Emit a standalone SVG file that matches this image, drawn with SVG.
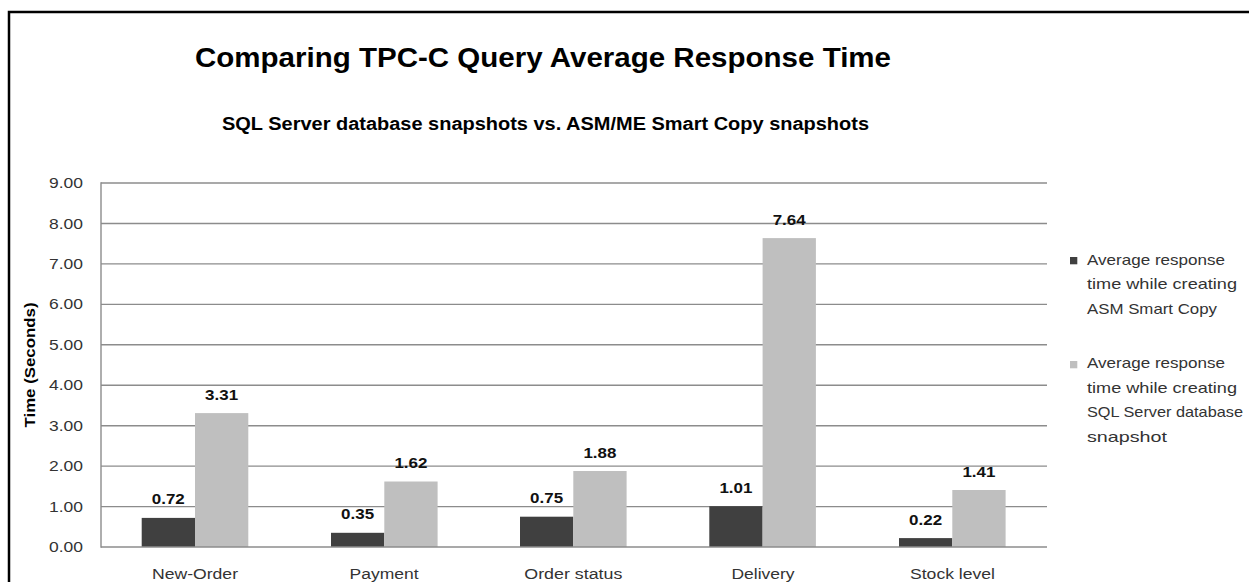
<svg xmlns="http://www.w3.org/2000/svg" width="1249" height="582" viewBox="0 0 1249 582">
<style>
text{font-family:"Liberation Sans",Arial,sans-serif}
.title{font-size:27px;font-weight:bold;fill:#000}
.sub{font-size:18px;font-weight:bold;fill:#000}
.ytick{font-size:15px;fill:#333;text-anchor:end}
.cat{font-size:15.5px;fill:#333;text-anchor:middle}
.val{font-size:15.5px;font-weight:bold;fill:#111;text-anchor:middle}
.leg{font-size:15px;fill:#333}
.ytitle{font-size:15px;font-weight:bold;fill:#000;text-anchor:middle}
.grid{stroke:#8c8c8c;stroke-width:1.4;fill:none}
.dark{fill:#404040}
.light{fill:#bfbfbf}
</style>
<rect x="0" y="0" width="1249" height="582" fill="#fff"/>
<rect x="9" y="12" width="1260" height="600" fill="none" stroke="#000" stroke-width="2.5"/>
<g id="titles">
<text class="title" x="195" y="67" textLength="696" lengthAdjust="spacingAndGlyphs">Comparing TPC-C Query Average Response Time</text>
<text class="sub" x="222" y="130" textLength="647" lengthAdjust="spacingAndGlyphs">SQL Server database snapshots vs. ASM/ME Smart Copy snapshots</text>
</g>
<g id="gridlines">
<line class="grid" x1="101" y1="183" x2="1047" y2="183"/>
<line class="grid" x1="101" y1="223.5" x2="1047" y2="223.5"/>
<line class="grid" x1="101" y1="263.9" x2="1047" y2="263.9"/>
<line class="grid" x1="101" y1="304.4" x2="1047" y2="304.4"/>
<line class="grid" x1="101" y1="344.8" x2="1047" y2="344.8"/>
<line class="grid" x1="101" y1="385.2" x2="1047" y2="385.2"/>
<line class="grid" x1="101" y1="425.7" x2="1047" y2="425.7"/>
<line class="grid" x1="101" y1="466.1" x2="1047" y2="466.1"/>
<line class="grid" x1="101" y1="506.6" x2="1047" y2="506.6"/>
</g>
<g id="yaxis">
<text class="ytick" x="83" y="188" textLength="34" lengthAdjust="spacingAndGlyphs">9.00</text>
<text class="ytick" x="83" y="228.5" textLength="34" lengthAdjust="spacingAndGlyphs">8.00</text>
<text class="ytick" x="83" y="268.9" textLength="34" lengthAdjust="spacingAndGlyphs">7.00</text>
<text class="ytick" x="83" y="309.4" textLength="34" lengthAdjust="spacingAndGlyphs">6.00</text>
<text class="ytick" x="83" y="349.8" textLength="34" lengthAdjust="spacingAndGlyphs">5.00</text>
<text class="ytick" x="83" y="390.2" textLength="34" lengthAdjust="spacingAndGlyphs">4.00</text>
<text class="ytick" x="83" y="430.7" textLength="34" lengthAdjust="spacingAndGlyphs">3.00</text>
<text class="ytick" x="83" y="471.1" textLength="34" lengthAdjust="spacingAndGlyphs">2.00</text>
<text class="ytick" x="83" y="511.6" textLength="34" lengthAdjust="spacingAndGlyphs">1.00</text>
<text class="ytick" x="83" y="552" textLength="34" lengthAdjust="spacingAndGlyphs">0.00</text>
<text class="ytitle" transform="translate(35,365) rotate(-90)" textLength="125" lengthAdjust="spacingAndGlyphs">Time (Seconds)</text>
</g>
<g id="bars">
<rect class="dark" x="141.7" y="517.9" width="53.3" height="29.1"/>
<rect class="light" x="195" y="413.1" width="53.3" height="133.9"/>
<rect class="dark" x="331" y="532.8" width="53.3" height="14.2"/>
<rect class="light" x="384.3" y="481.5" width="53.3" height="65.5"/>
<rect class="dark" x="520" y="516.7" width="53.3" height="30.3"/>
<rect class="light" x="573.3" y="471" width="53.3" height="76"/>
<rect class="dark" x="709.3" y="506.2" width="53.3" height="40.8"/>
<rect class="light" x="762.6" y="238.1" width="53.3" height="308.9"/>
<rect class="dark" x="899" y="538.1" width="53.3" height="8.9"/>
<rect class="light" x="952.3" y="490" width="53.3" height="57"/>
</g>
<g id="axes">
<line class="grid" x1="101" y1="547" x2="1047" y2="547"/>
<line class="grid" x1="101" y1="182.3" x2="101" y2="547.7"/>
</g>
<g id="values">
<text class="val" x="168.3" y="504" textLength="33" lengthAdjust="spacingAndGlyphs">0.72</text>
<text class="val" x="221.6" y="399.5" textLength="33" lengthAdjust="spacingAndGlyphs">3.31</text>
<text class="val" x="357.6" y="519.3" textLength="33" lengthAdjust="spacingAndGlyphs">0.35</text>
<text class="val" x="410.9" y="468" textLength="33" lengthAdjust="spacingAndGlyphs">1.62</text>
<text class="val" x="546.6" y="503.2" textLength="33" lengthAdjust="spacingAndGlyphs">0.75</text>
<text class="val" x="599.9" y="457.5" textLength="33" lengthAdjust="spacingAndGlyphs">1.88</text>
<text class="val" x="735.9" y="492.7" textLength="33" lengthAdjust="spacingAndGlyphs">1.01</text>
<text class="val" x="789.2" y="224.6" textLength="33" lengthAdjust="spacingAndGlyphs">7.64</text>
<text class="val" x="925.6" y="524.6" textLength="33" lengthAdjust="spacingAndGlyphs">0.22</text>
<text class="val" x="978.9" y="476.5" textLength="33" lengthAdjust="spacingAndGlyphs">1.41</text>
</g>
<g id="categories">
<text class="cat" x="195" y="578.5" textLength="86" lengthAdjust="spacingAndGlyphs">New-Order</text>
<text class="cat" x="384" y="578.5" textLength="69" lengthAdjust="spacingAndGlyphs">Payment</text>
<text class="cat" x="573.3" y="578.5" textLength="98" lengthAdjust="spacingAndGlyphs">Order status</text>
<text class="cat" x="763" y="578.5" textLength="63" lengthAdjust="spacingAndGlyphs">Delivery</text>
<text class="cat" x="952.5" y="578.5" textLength="85" lengthAdjust="spacingAndGlyphs">Stock level</text>
</g>
<g id="legend">
<g id="legend-asm">
<rect class="dark" x="1070" y="257" width="7.3" height="7.3"/>
<text class="leg" x="1087" y="264.5" textLength="138" lengthAdjust="spacingAndGlyphs">Average response</text>
<text class="leg" x="1087" y="289" textLength="150" lengthAdjust="spacingAndGlyphs">time while creating</text>
<text class="leg" x="1087" y="313.5" textLength="130" lengthAdjust="spacingAndGlyphs">ASM Smart Copy</text>
</g>
<g id="legend-sql">
<rect class="light" x="1070" y="361" width="7.3" height="7.3"/>
<text class="leg" x="1087" y="368" textLength="138" lengthAdjust="spacingAndGlyphs">Average response</text>
<text class="leg" x="1087" y="392.5" textLength="150" lengthAdjust="spacingAndGlyphs">time while creating</text>
<text class="leg" x="1087" y="417" textLength="156" lengthAdjust="spacingAndGlyphs">SQL Server database</text>
<text class="leg" x="1087" y="441.5" textLength="80" lengthAdjust="spacingAndGlyphs">snapshot</text>
</g>
</g>
</svg>
